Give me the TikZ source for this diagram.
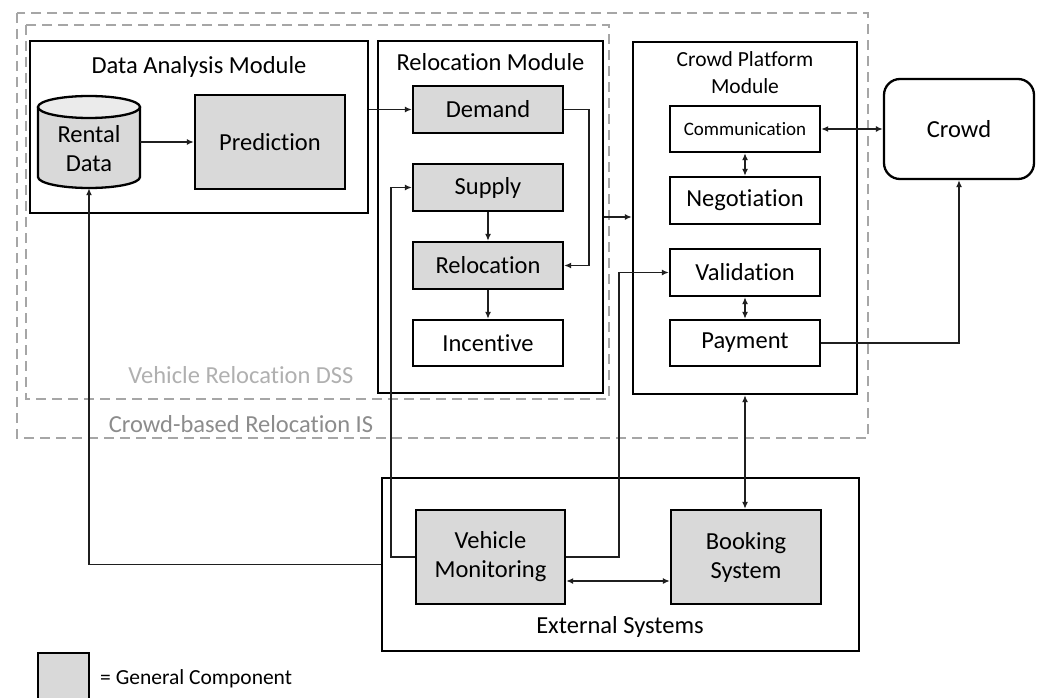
\documentclass[tikz,border=0pt]{standalone}
\usepackage{fontspec}
\setmainfont{Carlito}[Ligatures=CommonOff]
\usetikzlibrary{arrows.meta}
\definecolor{compgray}{HTML}{D9D9D9}
\definecolor{capgray}{HTML}{EBEBEB}
\definecolor{dashgray}{HTML}{A6A6A6}
\definecolor{lightlabel}{HTML}{B0B0B0}
\definecolor{darklabel}{HTML}{8C8C8C}
\definecolor{linecol}{HTML}{1F1F1F}

\begin{document}

\begin{tikzpicture}[x=1pt,y=-1pt,
  txt/.style={font=\fontsize{24.5}{29}\selectfont, align=center, inner sep=0pt},
  box/.style={draw=black, line width=2.3pt, inner sep=0pt, align=center,
              font=\fontsize{24.5}{29}\selectfont},
  comp/.style={box, fill=compgray},
  module/.style={draw=black, line width=2.3pt, inner sep=0pt},
  system/.style={dashgray, line width=2pt, dash pattern=on 10pt off 6pt},
  conn/.style={draw=linecol, line width=1.5pt},
  arr/.style={conn, -{Latex[length=7pt,width=6pt]}},
  dbl/.style={conn, {Latex[length=7pt,width=6pt]}-{Latex[length=7pt,width=6pt]}}
]
\useasboundingbox (0,0) rectangle (1041,698);
\clip (0,0) rectangle (1041,698);
\fill[white] (0,0) rectangle (1041,698);

% system boundaries
\draw[system] (17,13) rectangle (868,438);
\draw[system] (26,25) rectangle (609,399);
\node[txt, text=lightlabel] (dsslabel) at (241,375) {Vehicle Relocation DSS};
\node[txt, text=darklabel] (islabel) at (241,424) {Crowd-based Relocation IS};

% data analysis module
\node[module, minimum width=338pt, minimum height=172pt] (dam) at (199,127) {};
\node[txt] (damtitle) at (199,67) {Data Analysis Module};
% rental data store drawn as a cylinder
\fill[compgray] (38,107) rectangle (140,177);
\fill[compgray] (89,177) ellipse [x radius=51, y radius=11];
\draw[line width=2.3pt] (38,107) -- (38,177) arc [start angle=180, end angle=0, x radius=51, y radius=11] -- (140,107);
\draw[line width=2.3pt, fill=capgray] (89,107) ellipse [x radius=51, y radius=11];
\node[inner sep=0pt, minimum width=102pt, minimum height=92pt] (rental) at (89,142) {};
\node[txt] (rentaltxt) at (89,149) {Rental\\Data};
\node[comp, minimum width=150pt, minimum height=94pt] (pred) at (270,142) {Prediction};

% relocation module
\node[module, minimum width=225pt, minimum height=352pt] (relmod) at (490.5,217) {};
\node[txt] (relmodtitle) at (490.5,62) {Relocation Module};
\node[comp, minimum width=150pt, minimum height=47pt] (demand) at (488,109.5) {Demand};
\node[comp, minimum width=150pt, minimum height=47pt] (supply) at (488,187.5) {Supply};
\node[comp, minimum width=150pt, minimum height=47pt] (reloc) at (488,265.5) {Relocation};
\node[box, minimum width=150pt, minimum height=46pt] (incent) at (488,343) {Incentive};

% crowd platform module
\node[module, minimum width=224pt, minimum height=352pt] (cpm) at (745,218) {};
\node[txt, font=\fontsize{21.5}{27}\selectfont] (cpmtitle) at (745,73) {Crowd Platform\\Module};
\node[box, minimum width=150pt, minimum height=46pt, font=\fontsize{19}{23}\selectfont] (comm) at (745,129) {Communication};
\node[box, minimum width=150pt, minimum height=47pt] (nego) at (745,200.5) {Negotiation};
\node[box, minimum width=150pt, minimum height=47pt] (valid) at (745,272.5) {Validation};
\node[box, minimum width=150pt, minimum height=46pt] (pay) at (745,343) {Payment};

% crowd
\node[box, rounded corners=16pt, minimum width=150pt, minimum height=100pt] (crowd) at (959,129) {Crowd};

% external systems
\node[module, minimum width=477pt, minimum height=173pt] (ext) at (620.5,564.5) {};
\node[txt] (exttitle) at (620,627) {External Systems};
\node[comp, minimum width=149pt, minimum height=94pt] (vm) at (490.5,557) {Vehicle\\Monitoring};
\node[comp, minimum width=150pt, minimum height=94pt] (bs) at (746,557) {Booking\\System};

% legend
\node[comp, minimum width=51pt, minimum height=60pt] (legendbox) at (63.5,683) {};
\node[txt, font=\fontsize{21.5}{26}\selectfont, anchor=west] (legendtxt) at (100,679) {= General Component};

% connectors
\draw[arr] (rental.east) -- (rental.east -| pred.west);
\draw[arr] (dam.east |- demand.west) -- (demand.west);
\draw[arr] (demand.east) -- ++(25,0) |- (reloc.east);
\draw[arr] (supply.south) -- (reloc.north);
\draw[arr] (reloc.south) -- (incent.north);
\draw[arr] (relmod.east) -- (relmod.east -| cpm.west);
\draw[dbl] (comm.east) -- (crowd.west);
\draw[dbl] (comm.south) -- (nego.north);
\draw[dbl] (valid.south) -- (pay.north);
\draw[arr] (pay.east) -| (crowd.south);
\draw[dbl] (cpm.south) -- (cpm.south |- bs.north);
\path (vm.east) ++(0,24) coordinate (vmlow);
\draw[dbl] (vmlow) -- (vmlow -| bs.west);
\draw[arr] (vm.west) -- ++(-24,0) |- (supply.west);
\draw[arr] (vm.east) -- ++(53,0) |- (valid.west);
\draw[arr] (ext.west) -| (rental.south);
\end{tikzpicture}

\end{document}
